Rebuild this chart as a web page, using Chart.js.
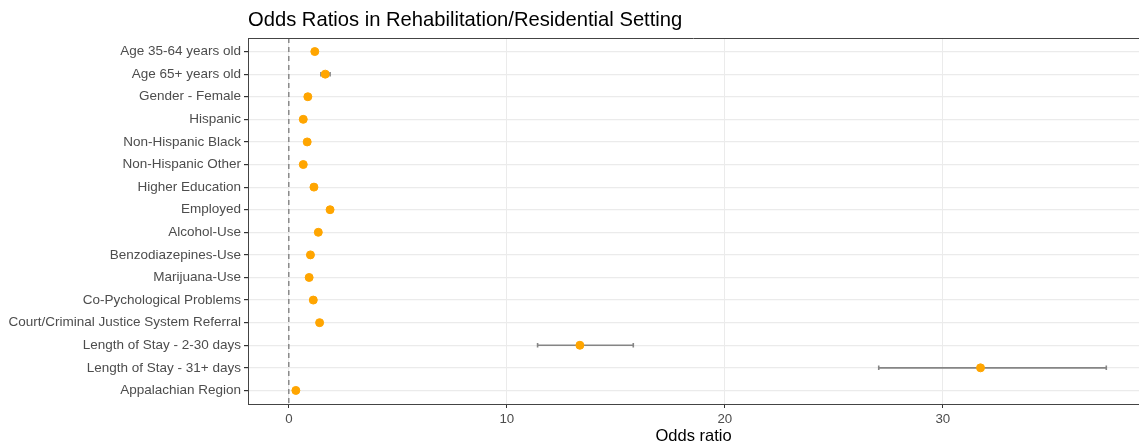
<!DOCTYPE html>
<html>
<head>
<meta charset="utf-8">
<script src="https://cdn.jsdelivr.net/npm/chart.js@4"></script>
<style>
  html, body { margin: 0; padding: 0; overflow: hidden; background: #ffffff; }
  #wrap { position: relative; width: 1139px; height: 444px; }
</style>
</head>
<body>
<div id="wrap"><canvas id="chart"></canvas></div>
<script>
// Predictors, top to bottom
const factors = [
  "Age 35-64 years old",
  "Age 65+ years old",
  "Gender - Female",
  "Hispanic",
  "Non-Hispanic Black",
  "Non-Hispanic Other",
  "Higher Education",
  "Employed",
  "Alcohol-Use",
  "Benzodiazepines-Use",
  "Marijuana-Use",
  "Co-Pychological Problems",
  "Court/Criminal Justice System Referral",
  "Length of Stay - 2-30 days",
  "Length of Stay - 31+ days",
  "Appalachian Region"
];

// Point estimates and 95% confidence bounds
const oddsRatio = [1.19, 1.67, 0.87, 0.66, 0.84, 0.66, 1.15, 1.89, 1.35, 0.99, 0.93, 1.12, 1.41, 13.35, 31.73, 0.32];
const ciLower   = [1.12, 1.47, 0.83, 0.61, 0.79, 0.60, 1.10, 1.82, 1.30, 0.94, 0.89, 1.07, 1.35, 11.41, 27.06, 0.29];
const ciUpper   = [1.26, 1.89, 0.91, 0.71, 0.89, 0.72, 1.20, 1.96, 1.40, 1.04, 0.97, 1.17, 1.47, 15.80, 37.50, 0.35];

// Axis settings
const xTickValues = [0, 10, 20, 30];
const referenceValue = 0; // dashed reference line
const xMin = -1.875, xMax = 39.0;

const chartTitle = "Odds Ratios in Rehabilitation/Residential Setting";
const xTitle = "Odds ratio";

const FONT = "'Liberation Sans', Arial, Helvetica, sans-serif";

// Horizontal CI whiskers with end caps, drawn beneath the points
const errorBars = {
  id: 'errorBars',
  beforeDatasetsDraw(chart) {
    const { ctx, scales: { x, y } } = chart;
    ctx.save();
    ctx.strokeStyle = '#858585';
    ctx.lineWidth = 1.6;
    factors.forEach((f, i) => {
      const yc = y.getPixelForValue(i + 1);
      const capTop = y.getPixelForValue(i + 1 - 0.1);
      const capBot = y.getPixelForValue(i + 1 + 0.1);
      const x0 = x.getPixelForValue(ciLower[i]);
      const x1 = x.getPixelForValue(ciUpper[i]);
      ctx.beginPath();
      ctx.moveTo(x0, yc); ctx.lineTo(x1, yc);
      ctx.moveTo(x0, capTop); ctx.lineTo(x0, capBot);
      ctx.moveTo(x1, capTop); ctx.lineTo(x1, capBot);
      ctx.stroke();
    });
    ctx.restore();
  }
};

// Top edge of the panel frame and the left-aligned plot title
const frameAndTitle = {
  id: 'frameAndTitle',
  afterDraw(chart) {
    const { ctx, chartArea: a } = chart;
    ctx.save();
    ctx.strokeStyle = '#444444';
    ctx.lineWidth = 1;
    const yTop = Math.round(a.top) + 0.5;
    ctx.beginPath();
    ctx.moveTo(a.left, yTop);
    ctx.lineTo(a.right, yTop);
    ctx.stroke();
    ctx.fillStyle = '#000000';
    ctx.font = '20.2px ' + FONT;
    ctx.textAlign = 'left';
    ctx.textBaseline = 'alphabetic';
    ctx.fillText(chartTitle, a.left, 25.5);
    ctx.restore();
  }
};

new Chart(document.getElementById('chart'), {
  type: 'scatter',
  data: {
    datasets: [
      {
        type: 'line',
        data: [{ x: referenceValue, y: 0.4 }, { x: referenceValue, y: 16.6 }],
        borderColor: '#555555',
        borderWidth: 1,
        borderDash: [5, 4],
        pointRadius: 0,
        fill: false
      },
      {
        data: factors.map((f, i) => ({ x: oddsRatio[i], y: i + 1 })),
        backgroundColor: '#FFA500',
        borderColor: '#FFA500',
        pointRadius: 4,
        pointHoverRadius: 4
      }
    ]
  },
  options: {
    responsive: true,
    maintainAspectRatio: false,
    animation: false,
    events: [],
    layout: { autoPadding: false, padding: { top: 38, left: 0, right: 0, bottom: 0 } },
    plugins: {
      legend: { display: false },
      tooltip: { enabled: false },
      title: { display: false }
    },
    scales: {
      x: {
        type: 'linear',
        min: xMin,
        max: xMax,
        afterBuildTicks(scale) { scale.ticks = xTickValues.map(v => ({ value: v })); },
        afterFit(scale) {
          scale.height = 40;
          scale.paddingLeft = 0;
          scale.paddingRight = 0;
        },
        grid: {
          color: '#ebebeb',
          lineWidth: 1,
          tickColor: '#333333',
          tickLength: 4
        },
        border: { display: true, color: '#444444', width: 1 },
        ticks: {
          color: '#4d4d4d',
          font: { family: FONT, size: 13.3 },
          padding: 3,
          autoSkip: false,
          maxRotation: 0
        },
        title: {
          display: true,
          text: xTitle,
          color: '#000000',
          font: { family: FONT, size: 16.5, lineHeight: 1 },
          padding: { top: 0, bottom: -1 }
        }
      },
      y: {
        type: 'linear',
        reverse: true,
        min: 0.4,
        max: 16.6,
        afterBuildTicks(scale) { scale.ticks = factors.map((f, i) => ({ value: i + 1 })); },
        afterFit(scale) {
          scale.width = 248;
          scale.paddingTop = 0;
          scale.paddingBottom = 0;
        },
        grid: {
          color: '#ebebeb',
          lineWidth: 1.2,
          tickColor: '#333333',
          tickLength: 4
        },
        border: { display: true, color: '#444444', width: 1 },
        ticks: {
          color: '#4d4d4d',
          font: { family: FONT, size: 13.5 },
          padding: 3,
          autoSkip: false,
          callback: (v) => factors[v - 1]
        }
      }
    }
  },
  plugins: [errorBars, frameAndTitle]
});
</script>
</body>
</html>
